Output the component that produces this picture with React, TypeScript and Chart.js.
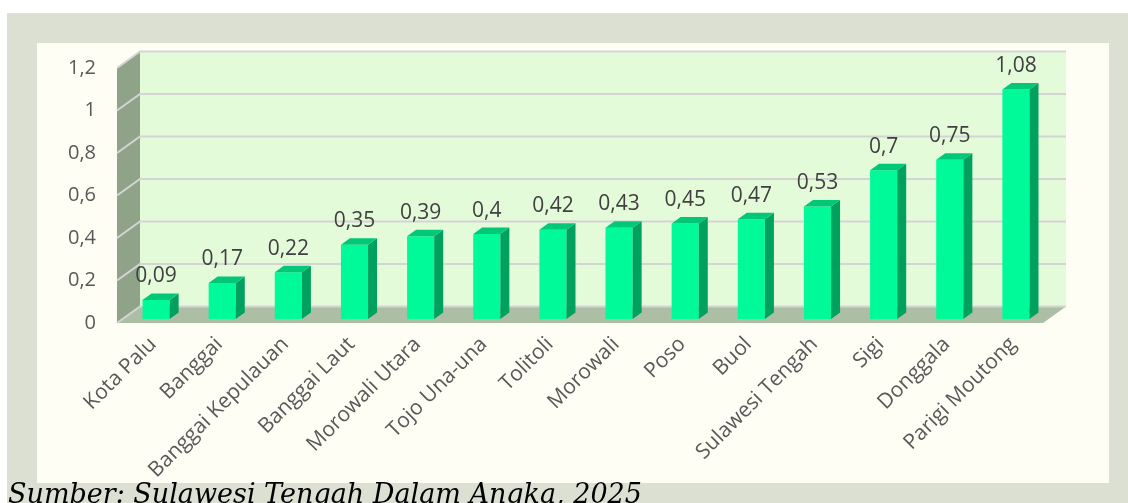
import React, { useEffect, useRef } from "react";
import { Chart, registerables } from "chart.js";

Chart.register(...registerables);

const categories = [
  "Kota Palu",
  "Banggai",
  "Banggai Kepulauan",
  "Banggai Laut",
  "Morowali Utara",
  "Tojo Una-una",
  "Tolitoli",
  "Morowali",
  "Poso",
  "Buol",
  "Sulawesi Tengah",
  "Sigi",
  "Donggala",
  "Parigi Moutong",
];
const values = [0.09, 0.17, 0.22, 0.35, 0.39, 0.4, 0.42, 0.43, 0.45, 0.47, 0.53, 0.7, 0.75, 1.08];
const valueLabels = ["0,09", "0,17", "0,22", "0,35", "0,39", "0,4", "0,42", "0,43", "0,45", "0,47", "0,53", "0,7", "0,75", "1,08"];
const yTickValues = [0, 0.2, 0.4, 0.6, 0.8, 1, 1.2];
const yTickLabels = ["0", "0,2", "0,4", "0,6", "0,8", "1", "1,2"];
const sourceText = "Sumber: Sulawesi Tengah Dalam Angka, 2025";

const W = 1128;
const H = 503;

// 3D look geometry (styles)
const DEPTH = { x: 23, y: -16.5 };
const BAR_SHIFT = { x: 6, y: -4 };
const BAR_DEPTH = { x: 9, y: -6.5 };

const COLORS = {
  backWall: "#e4fbda",
  sideWall: "#8fa388",
  floor: "#acbfa4",
  grid: "#d4d4d4",
  barFront: "#00fa9a",
  barSide: "#00a05f",
  barTop: "#00c876",
  label: "#404040",
  tick: "#595959",
};

const threeDPlugin = {
  id: "threeD",
  beforeDatasetsDraw(chart: any) {
    const { ctx, chartArea } = chart;
    const y = chart.scales.y;
    const left = chartArea.left;
    const right = chartArea.right;
    const yTop = y.getPixelForValue(yTickValues[yTickValues.length - 1]);
    const y0 = y.getPixelForValue(0);
    ctx.save();
    // back wall
    ctx.fillStyle = COLORS.backWall;
    ctx.fillRect(left + DEPTH.x, yTop + DEPTH.y, right - left, y0 - yTop);
    // side wall
    ctx.fillStyle = COLORS.sideWall;
    ctx.beginPath();
    ctx.moveTo(left, yTop);
    ctx.lineTo(left + DEPTH.x, yTop + DEPTH.y);
    ctx.lineTo(left + DEPTH.x, y0 + DEPTH.y);
    ctx.lineTo(left, y0);
    ctx.closePath();
    ctx.fill();
    // floor
    ctx.fillStyle = COLORS.floor;
    ctx.beginPath();
    ctx.moveTo(left, y0);
    ctx.lineTo(left + DEPTH.x, y0 + DEPTH.y);
    ctx.lineTo(right + DEPTH.x, y0 + DEPTH.y);
    ctx.lineTo(right, y0);
    ctx.closePath();
    ctx.fill();
    // grid lines
    ctx.strokeStyle = COLORS.grid;
    ctx.lineWidth = 2;
    yTickValues.forEach((v) => {
      const py = y.getPixelForValue(v);
      ctx.beginPath();
      ctx.moveTo(left, py);
      ctx.lineTo(left + DEPTH.x, py + DEPTH.y);
      ctx.lineTo(right + DEPTH.x, py + DEPTH.y);
      ctx.stroke();
    });
    ctx.restore();
    // shift bars into their depth plane
    ctx.save();
    ctx.translate(BAR_SHIFT.x, BAR_SHIFT.y);
  },
  afterDatasetsDraw(chart: any) {
    const { ctx } = chart;
    const meta = chart.getDatasetMeta(0);
    meta.data.forEach((bar: any) => {
      const { x, y, base, width } = bar.getProps(["x", "y", "base", "width"], true);
      const l = x - width / 2;
      const r = x + width / 2;
      // side face
      ctx.fillStyle = COLORS.barSide;
      ctx.beginPath();
      ctx.moveTo(r, y);
      ctx.lineTo(r + BAR_DEPTH.x, y + BAR_DEPTH.y);
      ctx.lineTo(r + BAR_DEPTH.x, base + BAR_DEPTH.y);
      ctx.lineTo(r, base);
      ctx.closePath();
      ctx.fill();
      // top face
      ctx.fillStyle = COLORS.barTop;
      ctx.beginPath();
      ctx.moveTo(l, y);
      ctx.lineTo(l + BAR_DEPTH.x, y + BAR_DEPTH.y);
      ctx.lineTo(r + BAR_DEPTH.x, y + BAR_DEPTH.y);
      ctx.lineTo(r, y);
      ctx.closePath();
      ctx.fill();
    });
    ctx.restore();
    // value labels
    ctx.save();
    ctx.font = '21px "Open Sans"';
    ctx.fillStyle = COLORS.label;
    ctx.textAlign = "center";
    ctx.textBaseline = "alphabetic";
    meta.data.forEach((bar: any, i: number) => {
      const { x, y } = bar.getProps(["x", "y"], true);
      ctx.fillText(valueLabels[i], x + BAR_SHIFT.x, y + BAR_SHIFT.y - 17.5);
    });
    ctx.restore();
  },
};

function BarChart() {
  const ref = useRef<HTMLCanvasElement | null>(null);
  useEffect(() => {
    if (!ref.current) return;
    const chart = new Chart(ref.current, {
      type: "bar",
      data: {
        labels: categories,
        datasets: [
          {
            data: values,
            backgroundColor: COLORS.barFront,
            borderWidth: 0,
            barPercentage: 0.41,
            categoryPercentage: 1,
          },
        ],
      },
      options: {
        responsive: false,
        animation: false,
        devicePixelRatio: 1,
        layout: { padding: { left: 0, top: 68, right: 85, bottom: 0 } },
        plugins: {
          legend: { display: false },
          tooltip: { enabled: false },
          title: { display: false },
        },
        scales: {
          x: {
            grid: { display: false, drawTicks: false },
            border: { display: false },
            ticks: {
              autoSkip: false,
              minRotation: 45,
              maxRotation: 45,
              padding: 9,
              labelOffset: 3,
              color: COLORS.tick,
              font: { family: '"Open Sans"', size: 21 },
            },
            afterFit: (s: any) => {
              s.height = H - 323;
            },
          },
          y: {
            min: 0,
            max: 1.2,
            grid: { display: false, drawTicks: false },
            border: { display: false },
            ticks: {
              stepSize: 0.2,
              padding: 21,
              color: COLORS.tick,
              font: { family: '"Open Sans"', size: 20 },
              callback: (_v: any, i: number) => yTickLabels[i],
            },
            afterFit: (s: any) => {
              s.width = 117;
            },
          },
        },
      } as any,
      plugins: [threeDPlugin],
    });
    return () => chart.destroy();
  }, []);
  return (
    <canvas
      ref={ref}
      width={W}
      height={H}
      style={{ position: "absolute", left: 0, top: 0, width: W, height: H }}
    />
  );
}

export default function App() {
  return (
    <div
      style={{
        position: "fixed",
        left: 0,
        top: 0,
        width: W,
        height: H,
        overflow: "hidden",
        background: "#ffffff",
      }}
    >
      <div
        style={{
          position: "absolute",
          left: 7,
          top: 13,
          width: W - 7,
          height: H - 13,
          background: "#dbe0d3",
          borderTop: "1px solid #e2e4de",
          boxSizing: "border-box",
        }}
      />
      <div
        style={{
          position: "absolute",
          left: 37,
          top: 43,
          width: 1072,
          height: 440,
          background: "#fefef5",
        }}
      />
      <BarChart />
      <div
        style={{
          position: "absolute",
          left: 8,
          top: 480,
          fontFamily: '"DejaVu Serif", serif',
          fontStyle: "italic",
          fontSize: 27,
          lineHeight: "27px",
          color: "#000000",
          whiteSpace: "nowrap",
        }}
      >
        {sourceText}
      </div>
    </div>
  );
}
